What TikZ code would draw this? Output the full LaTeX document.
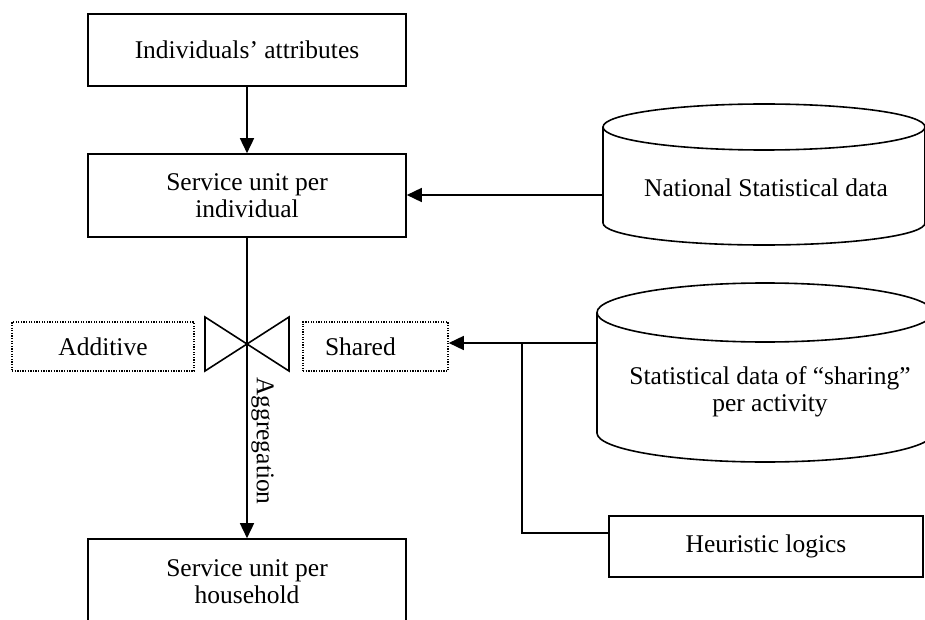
\documentclass[tikz,border=0pt]{standalone}
\usepackage{fontspec}
\setmainfont{Liberation Serif}
\usetikzlibrary{arrows.meta}
\begin{document}
\begin{tikzpicture}[x=1pt,y=-1pt,line width=1.6pt,
  txt/.style={font=\fontsize{25.5}{27}\selectfont,align=center,inner sep=0pt},
  boxnode/.style={draw,txt,minimum width=318pt},
  dotbox/.style={draw,txt,dash pattern=on 1.3pt off 1.3pt},
  arr/.style={-{Triangle[length=15pt,width=14pt]}}]
\useasboundingbox (0,0) rectangle (925,620);
\clip (0,0) rectangle (925,620);
% boxes
\node[boxnode,minimum height=72pt] (ind) at (247,50) {Individuals’ attributes};
\node[boxnode,minimum height=83pt] (sui) at (247,195.5) {Service unit per\\individual};
\node[boxnode,minimum height=85pt] (suh) at (247,581.5) {Service unit per\\household};
% bowtie
\draw (205,317) -- (205,371) -- (289,317) -- (289,371) -- cycle;
% dotted boxes
\node[dotbox,minimum width=182pt,minimum height=49pt] (add) at (103,346.5) {Additive};
\node[dotbox,minimum height=49pt,text width=101pt,align=left,inner xsep=22pt] (shr) at (375.5,346.5) {Shared};
% cylinder 1
\draw (764,127) ellipse [x radius=161,y radius=23];
\draw (603,127) -- (603,223) arc[start angle=180,end angle=0,x radius=161,y radius=22] -- (925,127);
\node[txt] (nsd) at (766,188) {National Statistical data};
\coordinate (nsdW) at (603,195);
% cylinder 2
\draw (765,312.5) ellipse [x radius=168,y radius=29.5];
\draw (597,312.5) -- (597,433) arc[start angle=180,end angle=0,x radius=168,y radius=29] -- (933,312.5);
\node[txt] (sds) at (770,391.5) {Statistical data of “sharing”\\per activity};
\coordinate (sdsW) at (597,343);
% heuristic box
\node[draw,txt,minimum width=314pt,minimum height=61pt] (heu) at (766,546.5) {Heuristic logics};
\coordinate (br) at (522,343);
\coordinate (hj) at (609,533);
% connectors
\draw[arr] (ind) -- (sui);
\draw[arr] (nsdW) -- (nsdW -| sui.east);
\draw[arr] (sui) -- (suh);
\draw[arr] (sdsW) -- (sdsW -| shr.east);
\draw (br) |- (hj);
\node[txt,rotate=-90] (agg) at (262.5,441) {Aggregation};
\end{tikzpicture}
\end{document}
